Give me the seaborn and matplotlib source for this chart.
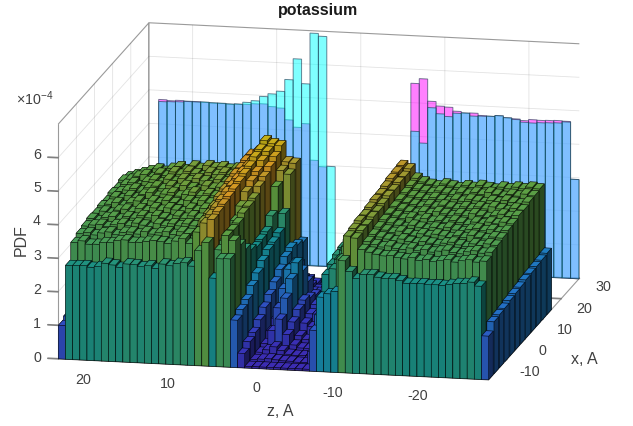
import numpy as np
import matplotlib
matplotlib.use('Agg')
import matplotlib.pyplot as plt
from matplotlib.colors import to_rgb
import seaborn as sns

# --- data (PDF in units of 1e-4) ---
wall_z_left = np.arange(24, -26, -1)
wall_cyan = [4.68, 4.69, 4.70, 4.72, 4.72, 4.73, 4.72, 4.72, 4.71, 4.72, 4.78, 4.84, 4.98, 5.07, 5.16, 5.52, 6.15, 5.42, 6.94, 6.86, 2.99,
             0, 0, 0, 0, 0, 0, 0, 0, 0,
             4.16, 3.82, 4.89, 4.72, 4.65, 4.76, 4.78, 4.70, 4.71, 4.72, 4.75, 4.70, 4.66, 4.59, 4.58, 4.60, 4.61, 4.62, 4.66, 2.96]
wall_magenta = [4.74, 4.72, 4.74, 4.73, 4.73, 4.72, 4.71, 4.71, 4.70, 4.71, 4.72, 4.75, 4.76, 4.69, 4.66, 4.32, 4.11, 4.23, 3.15, 2.97, 0,
                0, 0, 0, 0, 0, 0, 0, 0, 0,
                5.59, 5.74, 5.08, 4.95, 4.93, 4.82, 4.78, 4.79, 4.73, 4.72, 4.75, 4.70, 4.68, 4.64, 4.68, 4.67, 4.68, 4.69, 4.68, 2.96]

# hundredths of 1e-4, front row first, 60 z bins per row
row00 = [100, 280, 281, 282, 278, 281, 292, 288, 282, 293, 292, 287, 291, 284, 298, 294, 302, 305, 296, 343, 369, 263, 322, 323, 141, 43, 5, 5, 5, 5, 5, 5, 5, 5, 5, 122, 222, 233, 241, 334, 303, 283, 296, 297, 290, 287, 288, 283, 276, 277, 277, 275, 276, 275, 279, 283, 284, 289, 278, 130]
row01 = [110, 331, 337, 328, 329, 335, 336, 343, 346, 340, 341, 345, 349, 346, 342, 350, 358, 345, 380, 408, 420, 330, 374, 360, 155, 60, 8, 10, 12, 10, 8, 8, 6, 6, 40, 150, 272, 290, 320, 390, 385, 352, 345, 340, 336, 338, 333, 330, 335, 328, 332, 326, 330, 334, 328, 333, 337, 331, 335, 155]
row02 = [115, 340, 344, 338, 345, 349, 342, 350, 352, 347, 355, 349, 354, 358, 351, 360, 356, 350, 395, 415, 425, 340, 373, 330, 167, 70, 12, 20, 30, 20, 10, 8, 8, 8, 50, 170, 285, 300, 340, 395, 390, 358, 350, 344, 348, 342, 340, 345, 338, 342, 336, 340, 344, 338, 335, 342, 346, 340, 344, 158]
row03 = [120, 345, 349, 352, 346, 353, 358, 352, 361, 356, 350, 362, 357, 364, 359, 366, 361, 360, 400, 420, 430, 345, 376, 300, 191, 90, 20, 60, 95, 50, 20, 12, 12, 12, 70, 190, 295, 310, 350, 400, 390, 362, 355, 350, 345, 352, 346, 342, 348, 344, 340, 346, 350, 343, 339, 348, 344, 350, 347, 160]
row04 = [120, 350, 344, 355, 359, 352, 361, 357, 366, 360, 368, 362, 358, 370, 364, 372, 366, 370, 405, 425, 435, 365, 388, 280, 211, 110, 40, 110, 140, 70, 30, 20, 25, 30, 90, 210, 300, 315, 360, 400, 395, 366, 358, 352, 357, 350, 345, 352, 347, 353, 349, 345, 352, 347, 355, 350, 346, 353, 351, 165]
row05 = [125, 348, 355, 350, 360, 364, 358, 368, 362, 372, 366, 374, 369, 364, 376, 370, 378, 375, 415, 430, 440, 390, 391, 270, 230, 130, 60, 150, 180, 90, 50, 40, 50, 60, 120, 230, 305, 320, 365, 405, 395, 370, 362, 356, 350, 358, 353, 348, 355, 351, 357, 350, 346, 354, 358, 352, 356, 350, 356, 168]
row06 = [125, 352, 358, 364, 356, 366, 372, 364, 374, 369, 378, 372, 367, 380, 374, 382, 376, 380, 420, 432, 445, 415, 397, 275, 245, 150, 80, 190, 210, 100, 60, 60, 60, 80, 140, 250, 310, 325, 370, 410, 400, 372, 365, 358, 363, 355, 361, 354, 358, 352, 360, 355, 350, 358, 353, 360, 356, 362, 358, 170]
row07 = [130, 350, 362, 357, 368, 362, 374, 380, 370, 378, 384, 374, 380, 388, 378, 385, 380, 385, 425, 435, 450, 430, 415, 280, 250, 170, 90, 190, 170, 90, 70, 70, 70, 90, 160, 270, 310, 330, 375, 410, 405, 375, 368, 362, 357, 364, 358, 365, 360, 355, 362, 357, 364, 360, 355, 362, 367, 361, 365, 174]
row08 = [130, 355, 360, 366, 372, 365, 376, 382, 375, 385, 378, 388, 382, 376, 390, 384, 388, 385, 430, 438, 455, 440, 426, 310, 260, 190, 100, 150, 120, 80, 70, 60, 60, 100, 180, 280, 315, 330, 380, 415, 405, 378, 370, 365, 360, 366, 360, 367, 362, 358, 365, 360, 367, 362, 369, 364, 360, 368, 364, 176]
row09 = [130, 352, 364, 370, 362, 376, 382, 374, 386, 380, 390, 384, 392, 386, 380, 392, 386, 390, 430, 438, 465, 455, 438, 380, 300, 200, 150, 90, 70, 70, 60, 60, 70, 110, 200, 290, 320, 335, 385, 420, 410, 380, 372, 368, 363, 370, 364, 360, 368, 363, 370, 366, 362, 369, 365, 372, 367, 363, 370, 178]
row10 = [135, 358, 362, 372, 378, 370, 384, 378, 390, 384, 394, 388, 382, 394, 388, 396, 390, 390, 435, 440, 470, 465, 450, 410, 400, 190, 90, 70, 60, 60, 60, 60, 70, 120, 210, 300, 325, 340, 390, 422, 410, 384, 375, 370, 366, 372, 367, 363, 371, 366, 373, 368, 375, 370, 365, 372, 368, 375, 371, 180]
row11 = [135, 350, 358, 365, 372, 378, 372, 382, 388, 380, 392, 386, 395, 390, 394, 388, 392, 395, 435, 447, 478, 470, 465, 418, 415, 180, 70, 60, 50, 50, 50, 50, 70, 120, 200, 300, 330, 340, 390, 424, 415, 388, 378, 372, 368, 375, 370, 366, 373, 369, 376, 371, 367, 374, 370, 376, 372, 378, 374, 183]
rows = [row00, row01, row02, row03, row04, row05, row06, row07, row08, row09, row10, row11]

z_ticks = [20, 10, 0, -10, -20]
x_ticks = [-10, 0, 10, 20, 30]
pdf_ticks = [0, 1, 2, 3, 4, 5, 6]

# 颜色：按高度取色，接近 MATLAB parula 但偏暗
level_colors = ['#36279e', '#3030a6', '#2a48ac', '#1f66b0', '#157c9c', '#15807a', '#3c8a50', '#568e3a', '#bd8520', '#aca512']
bar_cmap = sns.blend_palette(level_colors, n_colors=256, as_cmap=True)


def tone(rgb, f):
    return tuple(min(1.0, c * f) for c in rgb)


sns.set_theme(style='white')
plt.rcParams['font.family'] = ['Liberation Sans', 'DejaVu Sans']
plt.rcParams['mathtext.fontset'] = 'custom'
plt.rcParams['mathtext.rm'] = 'Liberation Sans'
plt.rcParams['axes.unicode_minus'] = False
text_col = '#404040'

fig = plt.figure(figsize=(6.33, 4.26), dpi=100)
ax = fig.add_subplot(projection='3d', computed_zorder=False)
ax.set_proj_type('ortho')
ax.view_init(elev=13.5, azim=-78.2)
ax.set_box_aspect((441, 445, 242), zoom=1.526)
ax.set_position([-0.0055, 0.014, 1.0, 1.0])
ax.set_xlim(25.2, -26)
ax.set_ylim(-20, 30)
ax.set_zlim(0, 7)

# 背后两组半透明柱子
ax.bar(wall_z_left - 0.5, wall_magenta, zs=29.8, zdir='y', width=1.0, color=(1, 0, 1, 0.5), edgecolor=(0.1, 0.2, 0.3, 0.6), linewidth=0.7, zorder=2, clip_on=False)
ax.bar(wall_z_left - 0.5, wall_cyan, zs=29.8, zdir='y', width=1.0, color=(0, 1, 1, 0.5), edgecolor=(0.1, 0.2, 0.3, 0.6), linewidth=0.7, zorder=3, clip_on=False)

# 主体 bar3：由后往前、由左往右画
n_z = len(row00)
dz = 51.2 / n_z
dy = 2.92
order = 10
for r in range(len(rows) - 1, -1, -1):
    for k in range(n_z):
        h = rows[r][k] / 100.0
        base = to_rgb(bar_cmap(h / 4.9))
        faces = [tone(base, 0.5), tone(base, 1.12), base, tone(base, 0.5), tone(base, 0.52), tone(base, 0.5)]
        ax.bar3d(25.2 - (k + 1) * dz, -20 + r * dy, 0, dz * 0.98, dy * 0.86, h, color=faces, shade=False,
                 edgecolor=(0, 0, 0, 0.7), linewidth=0.4, zorder=order, clip_on=False)
        order += 1

# axes style
for axis in (ax.xaxis, ax.yaxis, ax.zaxis):
    axis.set_pane_color((1, 1, 1, 1))
    axis.pane.set_edgecolor('#9a9a9a')
    axis.pane.set_linewidth(0.8)
    axis.line.set_color('#9a9a9a')
    axis.line.set_linewidth(0.8)
    axis._axinfo['grid'].update(color=(0.15, 0.15, 0.15, 0.13), linewidth=0.6)
    axis._axinfo['tick'].update(inward_factor=0.0, outward_factor=0.3)
ax.zaxis.set_ticks_position('lower')
ax.zaxis._get_tickdir = lambda position: 0  # 刻度朝左，像 MATLAB
ax.set_xticks(z_ticks)
ax.set_yticks(x_ticks)
ax.set_zticks(pdf_ticks)
ax.set_xticklabels([])
ax.set_yticklabels([])
ax.set_zticklabels([])
ax.tick_params(axis='both', color='#808080', width=0.6)
ax.tick_params(axis='z', color='#808080', width=0.6)


def label_px(px, py, s, **kw):
    # 用参考图的像素位置放文字
    fig.text(px / 633, 1 - py / 426, s, ha='center', va='center', color=kw.pop('color', text_col), **kw)


for t, px, py in zip(z_ticks, [83, 168, 256, 333, 418], [380, 384, 388, 393, 396]):
    label_px(px, py, str(t), fontsize=10.3)
for t, px, py in zip(x_ticks, [530, 542, 565, 584, 603], [372, 351, 330, 309, 287]):
    label_px(px, py, str(t), fontsize=10.3)
for t, py in zip(pdf_ticks, [358, 324, 290, 256, 221, 188, 155]):
    label_px(37, py, str(t), fontsize=10.3)

label_px(318.5, 10, 'potassium', fontsize=11.5, fontweight='bold', color='k')
label_px(280, 412, 'z, A', fontsize=11.5)
label_px(584, 360, 'x, A', fontsize=11.5)
label_px(21, 240, 'PDF', rotation=90, fontsize=11.5)
label_px(35, 99, r'$\times\mathrm{10}^{-4}$', fontsize=10.3)

fig.savefig('out.png', dpi=100)
